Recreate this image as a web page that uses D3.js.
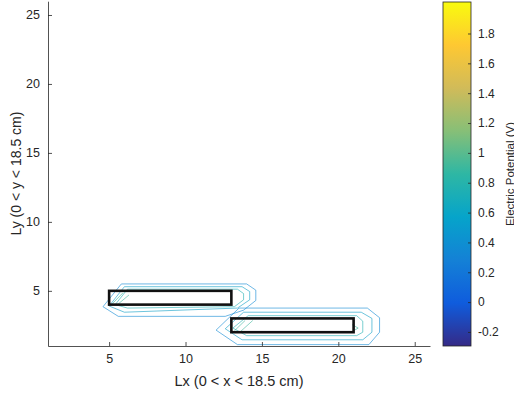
<!DOCTYPE html>
<html>
<head>
<meta charset="utf-8">
<script src="https://cdn.jsdelivr.net/npm/d3@7"></script>
<style>
  html, body { margin: 0; padding: 0; background: #fff; }
  svg { display: block; font-family: "Liberation Sans", Arial, Helvetica, sans-serif; }
</style>
</head>
<body>
<svg id="chart" width="514" height="394"></svg>
<script>
// ---- data (cm / volts) ----
const xTicks = [5, 10, 15, 20, 25];
const yTicks = [5, 10, 15, 20, 25];
const cbTicks = [-0.2, 0, 0.2, 0.4, 0.6, 0.8, 1, 1.2, 1.4, 1.6, 1.8];
const xDomain = [1, 26];
const yDomain = [1, 26];
const potentialRange = [-0.294, 2.011];

// electrode outlines: [x0, x1, y0, y1]
const electrodeA = [5, 13, 4, 5];
const electrodeB = [13, 21, 2, 3];

// equipotential lines around electrode A
const contourA1 = [[4.6,3.85],[5.8,5.5],[14.0,5.5],[14.6,5.05],[14.6,4.3],[13.8,3.6],[12.6,3.15],[5.6,3.15],[4.6,3.85]];
const contourA2 = [[5.0,3.9],[6.0,5.3],[13.7,5.3],[14.2,4.95],[14.2,4.35],[13.4,3.75],[6.0,3.45],[5.0,3.9]];
const contourA3 = [[5.4,4.0],[6.2,5.12],[13.4,5.12],[13.8,4.8],[13.8,4.35],[13.2,3.85],[6.2,3.75],[5.4,4.0]];
const contourA4 = [[5.2,4.05],[5.9,4.85]];
const contourA5 = [[5.6,4.05],[6.3,4.7]];

// equipotential lines around electrode B
const contourB1 = [[12.0,2.15],[13.5,3.75],[21.9,3.75],[22.7,3.05],[22.7,2.0],[22.0,1.1],[13.4,1.1],[12.0,2.15]];
const contourB2 = [[12.6,2.25],[13.8,3.45],[21.5,3.45],[22.2,3.0],[22.2,2.0],[21.6,1.45],[13.7,1.45],[12.6,2.25]];
const contourB3 = [[13.1,2.3],[14.1,3.2],[21.2,3.2],[21.6,2.8],[21.6,2.0],[21.2,1.75],[14.0,1.75],[13.1,2.3]];
const contourB4 = [[13.2,2.1],[13.9,2.85]];
const contourB5 = [[13.6,2.05],[14.4,2.85]];
const contourB6 = [[20.9,2.05],[21.3,2.3],[20.9,2.55]];

const contourLevels = [0.35, 0.55, 0.75, 0.9, 0.9, 0.35, 0.55, 0.75, 0.9, 0.9, 0.9];
const contourLines = [contourA1, contourA2, contourA3, contourA4, contourA5,
                      contourB1, contourB2, contourB3, contourB4, contourB5, contourB6];

// parula colormap stops
const parula = ["#352a87","#0f5cdd","#1481d6","#06a4ca","#2eb7a4","#87bf77","#d1bb59","#fec832","#f9fb0e"];

// ---- layout ----
const svg = d3.select("#chart");
const plot = { left: 48, right: 430, top: 1.2, bottom: 346 };
const cb = { left: 443, right: 471, top: 2, bottom: 346 };
const ink = "#262626";

const x = d3.scaleLinear().domain(xDomain).range([plot.left, plot.right]);
const y = d3.scaleLinear().domain(yDomain).range([plot.bottom, plot.top]);
const colorT = d3.scaleLinear().domain(potentialRange).range([0, 1]);
const parulaInterp = d3.interpolateRgbBasis(parula);
const colorOf = v => parulaInterp(Math.max(0, Math.min(1, colorT(v))));

// ---- contour lines ----
const line = d3.line().x(d => x(d[0])).y(d => y(d[1]));
svg.append("g")
  .selectAll("path")
  .data(contourLines)
  .join("path")
  .attr("d", line)
  .attr("fill", "none")
  .attr("stroke", (d, i) => colorOf(contourLevels[i]))
  .attr("stroke-opacity", 0.6)
  .attr("stroke-width", 1)
  .attr("stroke-linejoin", "round");

// ---- electrodes ----
svg.append("g")
  .selectAll("rect")
  .data([electrodeA, electrodeB])
  .join("rect")
  .attr("x", d => x(d[0]))
  .attr("y", d => y(d[3]))
  .attr("width", d => x(d[1]) - x(d[0]))
  .attr("height", d => y(d[2]) - y(d[3]))
  .attr("fill", "none")
  .attr("stroke", "#111")
  .attr("stroke-width", 2.6);

// ---- axes ----
const xAxis = d3.axisBottom(x).tickValues(xTicks).tickSize(-4).tickPadding(8).tickSizeOuter(0);
const gx = svg.append("g").attr("transform", `translate(0,${plot.bottom})`).call(xAxis);
const yAxis = d3.axisLeft(y).tickValues(yTicks).tickSize(-4).tickPadding(8).tickSizeOuter(0);
const gy = svg.append("g").attr("transform", `translate(${plot.left},0)`).call(yAxis);

[gx, gy].forEach(g => {
  g.select(".domain").attr("stroke", ink).attr("stroke-width", 0.8);
  g.selectAll(".tick line").attr("stroke", ink).attr("stroke-width", 0.8);
  g.selectAll(".tick text").attr("fill", ink).attr("font-size", 12.5).attr("font-family", null);
});

svg.append("text")
  .attr("x", (plot.left + plot.right) / 2)
  .attr("y", 386)
  .attr("text-anchor", "middle")
  .attr("fill", ink)
  .attr("font-size", 14.5)
  .text("Lx (0 < x < 18.5 cm)");

svg.append("text")
  .attr("transform", `translate(21,${(plot.top + plot.bottom) / 2}) rotate(-90)`)
  .attr("text-anchor", "middle")
  .attr("fill", ink)
  .attr("font-size", 14)
  .text("Ly (0 < y < 18.5 cm)");

// ---- colorbar ----
const grad = svg.append("defs").append("linearGradient")
  .attr("id", "parula").attr("x1", 0).attr("x2", 0).attr("y1", 1).attr("y2", 0);
parula.forEach((c, i) => grad.append("stop")
  .attr("offset", i / (parula.length - 1)).attr("stop-color", c));

svg.append("rect")
  .attr("x", cb.left).attr("y", cb.top)
  .attr("width", cb.right - cb.left).attr("height", cb.bottom - cb.top)
  .attr("fill", "url(#parula)")
  .attr("stroke", ink).attr("stroke-width", 0.8);

const cbScale = d3.scaleLinear().domain(potentialRange).range([cb.bottom, cb.top]);
const cbAxis = d3.axisRight(cbScale).tickValues(cbTicks).tickSize(-3).tickPadding(7).tickSizeOuter(0)
  .tickFormat(d => d3.format("~g")(d).replace("−", "-"));
const gcb = svg.append("g").attr("transform", `translate(${cb.right},0)`).call(cbAxis);
gcb.select(".domain").remove();
gcb.selectAll(".tick line").attr("stroke", ink).attr("stroke-width", 0.8);
gcb.selectAll(".tick text").attr("fill", ink).attr("font-size", 12).attr("font-family", null);

svg.append("text")
  .attr("transform", `translate(513.5,${(cb.top + cb.bottom) / 2}) rotate(-90)`)
  .attr("text-anchor", "middle")
  .attr("fill", ink)
  .attr("font-size", 11.5)
  .text("Electric Potential (V)");
</script>
</body>
</html>
